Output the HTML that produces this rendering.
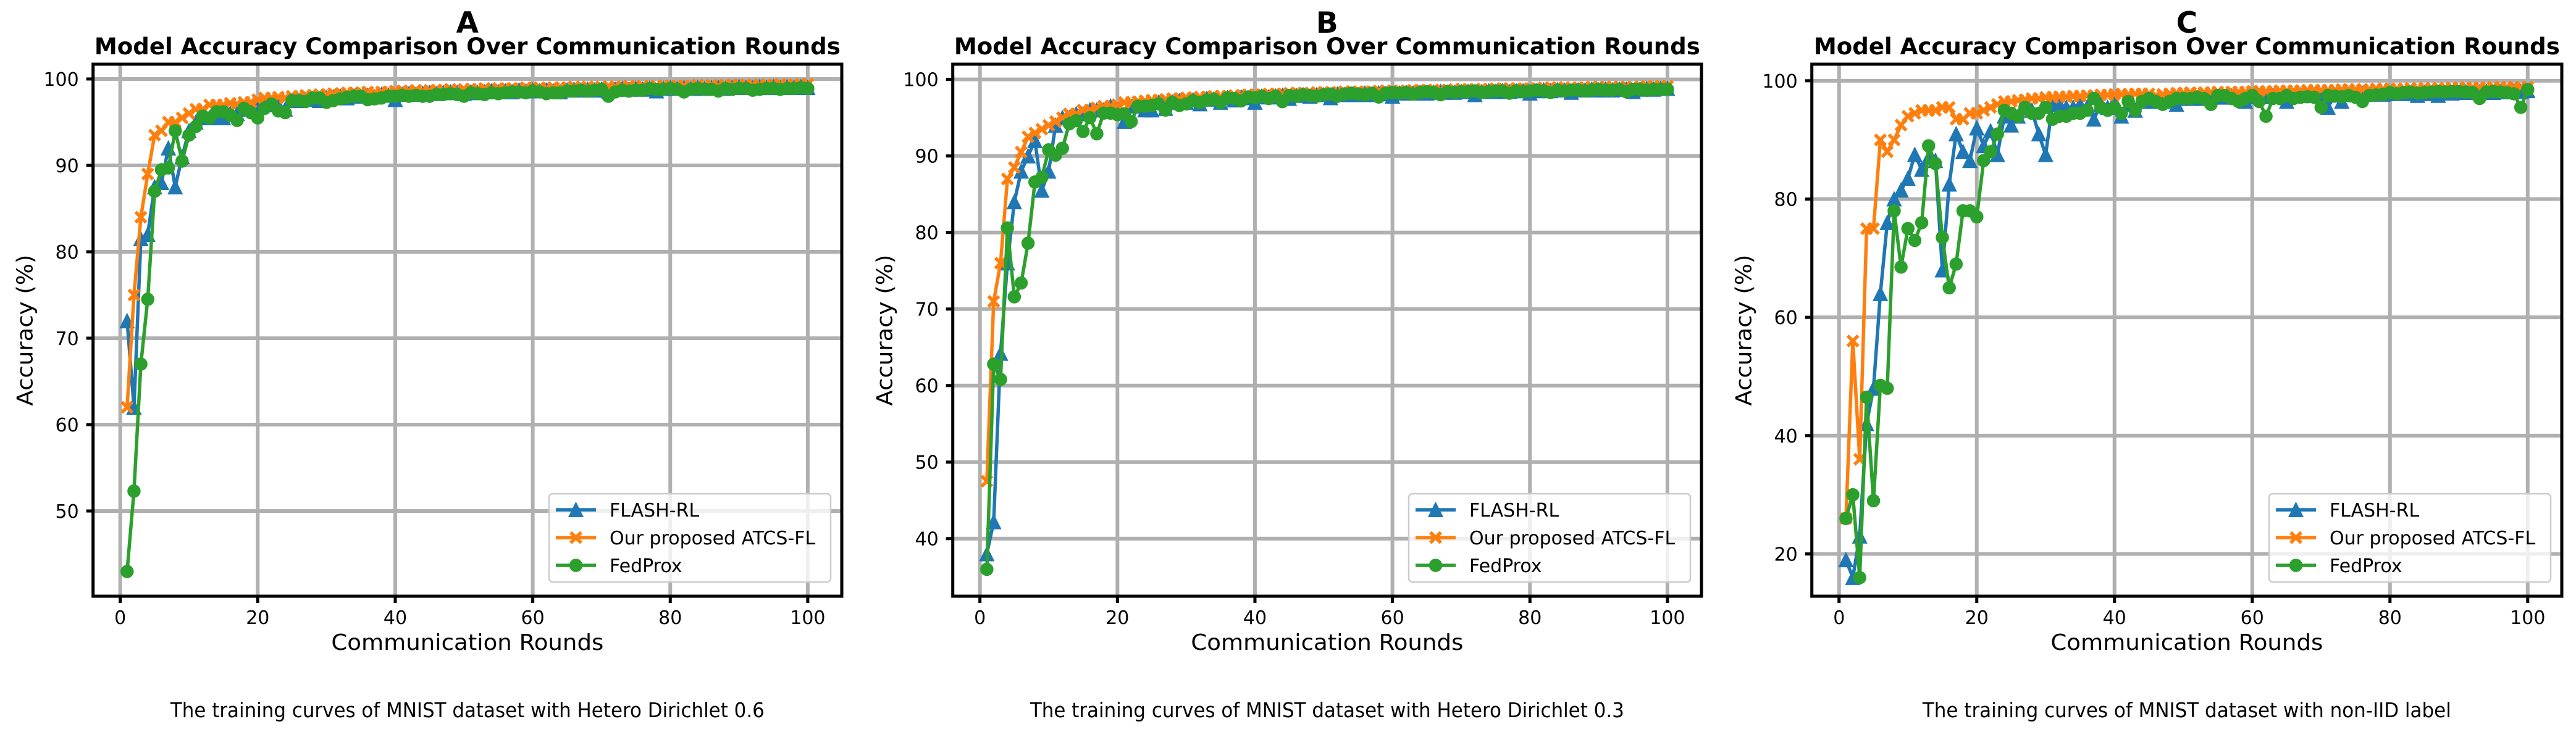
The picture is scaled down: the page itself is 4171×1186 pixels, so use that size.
<!DOCTYPE html>
<html><head><meta charset="utf-8"><style>
html,body{margin:0;padding:0;background:#fff;}
svg{display:block;}
text{font-family:"DejaVu Sans","Liberation Sans",sans-serif;}
</style></head>
<body>
<svg id="fig" xmlns="http://www.w3.org/2000/svg" width="4171" height="1186" viewBox="0 0 4171 1186"></svg>
<script>
const rounds = Array.from({length:100},(_, i)=>i+1);
const seriesNames = ["FLASH-RL","Our proposed ATCS-FL","FedProx"];
const panelLetters = ["A","B","C"];
const captions = ["The training curves of MNIST dataset with Hetero Dirichlet 0.6","The training curves of MNIST dataset with Hetero Dirichlet 0.3","The training curves of MNIST dataset with non-IID label"];
const xTicks = [0,20,40,60,80,100];
const yTicksA = [50,60,70,80,90,100];
const yTicksB = [40,50,60,70,80,90,100];
const yTicksC = [20,40,60,80,100];

const A_flash = [72,62,81.5,82,87.5,88,92,87.5,91,94,95,95.5,95.5,95.5,95.5,96,96,96.5,96.5,97,
97,97.2,97,96.5,97.5,97.5,97.6,97.7,97.5,97.8,97.9,98,97.8,98,98,98.1,97.9,98.2,98.1,97.6,
98.2,98.3,98.2,98.3,98.4,98.3,98.4,98.5,98.4,98.3,98.5,98.4,98.5,98.6,98.5,98.6,98.5,98.7,98.6,98.7,
98.6,98.7,98.6,98.5,98.7,98.8,98.7,98.8,98.7,98.8,98.6,98.8,98.9,98.8,98.9,98.8,98.9,98.6,98.9,99,
98.9,99,98.9,99,98.9,99,99,98.9,99,99.1,99,99,99.1,99,99.1,99,99.1,99,99.1,99];
const A_atcs = [62,75,84,89,93.5,94,95,95,95.5,96,96.5,96.5,97,97,97,97.2,97.1,97.3,97.3,97.6,
97.8,97.8,97.9,97.8,98,98,98.1,98.1,98.2,98.2,98.3,98.3,98.4,98.4,98.4,98.5,98.4,98.5,98.5,98.6,
98.6,98.6,98.7,98.6,98.7,98.7,98.7,98.8,98.7,98.8,98.8,98.8,98.9,98.8,98.9,98.9,98.9,98.9,99,98.9,
99,98.9,99,99,99,99.1,99,99.1,99,99.1,99.1,99.1,99.1,99.2,99.1,99.2,99.1,99.2,99.2,99.2,
99.2,99.2,99.2,99.3,99.2,99.3,99.2,99.3,99.3,99.3,99.3,99.3,99.3,99.3,99.3,99.4,99.3,99.3,99.4,99.4];
const A_fed = [43,52.3,67,74.5,87,89.5,89.7,94,90.5,93.5,94.5,95.7,95.5,96.2,96.2,95.8,95.2,96.6,96.1,95.5,
96.6,97.1,96.3,96.1,97.5,97.5,97.4,97.8,97.8,97.3,97.5,97.7,97.9,98,98,97.6,97.7,97.8,98,98,
98.1,98,98.1,98,98,98.2,98.2,98.3,98.2,98,98.4,98.3,98.2,98.4,98.3,98.4,98.5,98.5,98.4,98.6,
98.5,98.3,98.4,98.4,98.6,98.6,98.7,98.6,98.7,98.8,98,98.5,98.7,98.6,98.7,98.7,98.9,98.8,98.8,98.9,
98.8,98.5,98.8,98.9,98.8,98.8,98.6,98.9,98.8,98.9,98.9,98.7,98.8,98.9,98.9,98.8,98.9,98.9,99,98.9];

const B_flash = [38,42.2,64.2,76,84,88,90,92,85.5,88,94,95,95,95.5,95.5,96,96,96,96.5,96,
94.5,96.5,96.5,96,96,97,96.2,97,97.2,97,97.3,96.8,97.5,97.4,97,97.6,97.3,97.7,97.6,97,
97.8,97.7,97.8,97.9,97.5,97.9,98,97.8,98,98,97.6,98.1,98,98.1,98,98.2,98,98.2,98.1,97.8,
98.2,98.3,98.2,98.3,98.2,98.3,98.4,98.3,98.3,98.4,98.4,98,98.4,98.5,98.4,98.5,98.4,98.5,98.5,98.2,
98.5,98.6,98.5,98.6,98.6,98.3,98.6,98.6,98.7,98.6,98.7,98.6,98.7,98.7,98.4,98.7,98.8,98.7,98.8,98.8];
const B_atcs = [47.5,71,76,87,88.5,90.5,92.5,93,93.5,94,94.5,95,95.5,95.5,96,96,96.3,96.5,96.5,96.7,
97,97,97.1,97.2,97.3,97.3,97.4,97.5,97.5,97.6,97.6,97.7,97.7,97.8,97.8,97.8,97.9,97.9,98,98,
98,98.1,98.1,98.1,98.2,98.2,98.2,98.2,98.3,98.3,98.3,98.3,98.4,98.4,98.4,98.4,98.4,98.5,98.5,98.5,
98.5,98.5,98.6,98.6,98.6,98.6,98.6,98.6,98.7,98.7,98.7,98.7,98.7,98.7,98.8,98.8,98.8,98.8,98.8,98.8,
98.8,98.9,98.9,98.9,98.9,98.9,98.9,98.9,99,99,99,99,99,99,99,99,99.1,99.1,99.1,99.1];
const B_fed = [36,62.8,60.8,80.6,71.6,73.4,78.6,86.6,87.2,90.8,90.1,91,94.2,94.6,93.2,95,92.9,95.6,95.6,95.4,
95.5,94.5,96.5,96.5,96.6,96.8,96,97,96.6,96.8,97.2,97,97.3,97.4,97,97.6,97.5,97.2,97.7,97.6,
97.8,97.5,97.8,97.1,97.9,97.8,98,97.9,97.8,98,98.1,97.8,98.1,98.2,98.1,98,98.2,97.7,98.2,98.3,
98.2,98.3,98.1,98.3,98.4,98.3,98,98.4,98.3,98.4,98.4,98.5,98.3,98.4,98.5,98.5,98.2,98.5,98.4,98.5,
98.6,98.5,98.3,98.6,98.5,98.6,98.6,98.5,98.6,98.7,98.6,98.6,98.7,98.4,98.7,98.7,98.6,98.7,98.7,98.7];

const C_flash = [19,16,23,42,48,64,76,80,81.5,83.5,87.5,85,87,86.5,68,82.5,91,88,86.5,92,
89,91.5,87.5,94,92.5,94,95.5,95,91,87.5,96,96,95.5,95.5,96,95.5,93.5,96,95.5,96.5,
94,96,95,96.5,96.5,96.5,96.5,97,96,97,97,97.2,97,97.2,97.3,97.2,97.4,97.2,96.5,97.3,
97.5,97.3,97.5,97.4,96.5,97.5,97.6,97.5,97.6,97.5,95.5,97.6,96.5,97.7,97.6,97.8,97.7,97.8,97.7,97.9,
97.8,97.9,97.8,97.5,98,97.8,97.5,98,97.9,98,98.1,98,98.1,98.2,98,98.2,98.1,98.3,98.2,98.3];
const C_atcs = [26,56,36,75,75,90,88,90,92.5,94,94.5,95,95,95,95.5,95.5,93.5,93.5,94.5,94.5,
95,95.5,96,96.5,96.5,96.7,96.8,97,97,97.2,97.2,97.3,97.3,97.4,97.4,97.5,97.5,97.6,97.6,97.7,
97.7,97.7,97.8,97.8,97.8,97.5,97.7,97.8,97.9,97.9,98,97.9,98,98,98.1,98,98.1,98.1,98.1,98.2,
98.2,98.2,98.2,98.3,98.3,98.3,98.3,98.4,98.4,98.4,98.4,98.4,98.5,98.5,98.5,98.5,98.5,98.6,98.6,98.6,
98.6,98.6,98.7,98.7,98.7,98.7,98.7,98.7,98.8,98.8,98.8,98.8,98.8,98.8,98.9,98.9,98.9,98.9,98.9,98.9];
const C_fed = [26,30,16,46.5,29,48.5,48,78,68.5,75,73,76,89,86,73.5,65,69,78,78,77,
86.5,88,91,95,94.5,94,95.5,94.5,94.5,95.5,93.5,94,94,94.5,94.5,95,97,95.5,95,95.5,
94.5,96.5,95,96.5,97,96.5,96,96.5,97,97,97,97.2,97,96,97.5,97.5,97,96.5,97,97.5,
96.5,94,97,97,97.5,97,97.2,97.3,97.2,95.5,97.5,97.4,97.3,97.5,97.2,96.5,97.5,97.6,97.7,98,
97.8,98,98.1,97.9,98,98.1,98.2,98.1,98.2,98.2,98.1,98,97,98.1,98.2,98.1,98,97.8,95.5,98.5];

const NS = "http://www.w3.org/2000/svg";
const fig = document.getElementById('fig');
function mk(tag, attrs, parent){
  const e = document.createElementNS(NS, tag);
  for (const k in attrs) e.setAttribute(k, attrs[k]);
  (parent||fig).appendChild(e);
  return e;
}
const colors = ["#1f77b4","#ff7f0e","#2ca02c"];
const TOP = 104, BOT = 966;
const panels = [
  {L:150.7, R:1363, ymin:40.14, ymax:101.71, yticks:yTicksA, data:[A_flash,A_atcs,A_fed]},
  {L:1542.7, R:2755, ymin:32.48, ymax:101.99, yticks:yTicksB, data:[B_flash,B_atcs,B_fed]},
  {L:2933.7, R:4148, ymin:12.85, ymax:102.8, yticks:yTicksC, data:[C_flash,C_atcs,C_fed]}
];
const XMIN = -3.95, XMAX = 104.95;

function drawMarker(g, kind, x, y, color){
  let m;
  if (kind === 0){
    m = mk('polygon', {points:`${x},${y-11} ${x-11},${y+11} ${x+11},${y+11}`, fill:color, stroke:color, 'stroke-width':2, 'stroke-linejoin':'miter'}, g);
  } else if (kind === 1){
    m = mk('path', {d:`M${x-8.5},${y-8.5}L${x+8.5},${y+8.5}M${x-8.5},${y+8.5}L${x+8.5},${y-8.5}`, stroke:color, 'stroke-width':5.5, fill:'none'}, g);
  } else {
    m = mk('circle', {cx:x, cy:y, r:10, fill:color, stroke:color, 'stroke-width':1.5}, g);
  }
  return m;
}

panels.forEach((p, pi) => {
  const sx = v => p.L + (v - XMIN) / (XMAX - XMIN) * (p.R - p.L);
  const sy = v => BOT - (v - p.ymin) / (p.ymax - p.ymin) * (BOT - TOP);
  const cx = (p.L + p.R) / 2;
  const g = mk('g', {});
  
  

  const clipId = 'clip' + pi;
  const defs = mk('defs', {}, g);
  const cp = mk('clipPath', {id: clipId}, defs);
  mk('rect', {x:p.L, y:TOP, width:p.R-p.L, height:BOT-TOP}, cp);

  // grid
  const grid = mk('g', {stroke:'#b0b0b0', 'stroke-width':6, 'clip-path':`url(#${clipId})`}, g);
  
  
  xTicks.forEach(t => mk('line', {x1:sx(t), x2:sx(t), y1:TOP, y2:BOT}, grid));
  p.yticks.forEach(t => mk('line', {x1:p.L, x2:p.R, y1:sy(t), y2:sy(t)}, grid));

  // series
  p.data.forEach((vals, si) => {
    const sg = mk('g', {'clip-path':`url(#${clipId})`}, g);
    
    
    const pts = vals.map((v, i) => `${sx(rounds[i]).toFixed(2)},${sy(v).toFixed(2)}`).join(' ');
    const line = mk('polyline', {points:pts, fill:'none', stroke:colors[si], 'stroke-width':5.5, 'stroke-linejoin':'round', 'stroke-linecap':'square'}, sg);
    
    
    vals.forEach((v, i) => {
      const m = drawMarker(sg, si, sx(rounds[i]), sy(v), colors[si]);
      
      
    });
  });

  // spines
  const sp = mk('rect', {x:p.L, y:TOP, width:p.R-p.L, height:BOT-TOP, fill:'none', stroke:'#000', 'stroke-width':5}, g);
  
  

  // x ticks
  xTicks.forEach(t => {
    mk('line', {x1:sx(t), x2:sx(t), y1:BOT, y2:BOT+11, stroke:'#000', 'stroke-width':5}, g);
    const tx = mk('text', {x:sx(t), y:1011, 'font-size':30, 'text-anchor':'middle', fill:'#000'}, g);
    tx.textContent = t;
    
    
  });
  // y ticks
  p.yticks.forEach(t => {
    mk('line', {x1:p.L-11, x2:p.L, y1:sy(t), y2:sy(t), stroke:'#000', 'stroke-width':5}, g);
    const ty = mk('text', {x:p.L-23, y:sy(t)+11, 'font-size':30, 'text-anchor':'end', fill:'#000'}, g);
    ty.textContent = t;
    
    
  });

  // axis labels
  const xl = mk('text', {x:cx, y:1053, 'font-size':36, 'text-anchor':'middle', fill:'#000', textLength:441, lengthAdjust:'spacingAndGlyphs'}, g);
  xl.textContent = 'Communication Rounds';
  
  
  const ylx = p.L - 98;
  const yl = mk('text', {x:ylx, y:535, 'font-size':36, 'text-anchor':'middle', fill:'#000', transform:`rotate(-90 ${ylx} 535)`, textLength:245, lengthAdjust:'spacingAndGlyphs'}, g);
  yl.textContent = 'Accuracy (%)';
  
  

  // titles
  const pl = mk('text', {x:cx, y:53, 'font-size':47, 'font-weight':'bold', 'text-anchor':'middle', fill:'#000'}, g);
  pl.textContent = panelLetters[pi];
  
  
  const tt = mk('text', {x:cx, y:88, 'font-size':37, 'font-weight':'bold', 'text-anchor':'middle', fill:'#000', textLength:1208, lengthAdjust:'spacingAndGlyphs'}, g);
  tt.textContent = 'Model Accuracy Comparison Over Communication Rounds';
  
  

  // caption
  const capLen = [962, 962, 856][pi];
  const cap = mk('text', {x:cx, y:1162, 'font-size':33, 'text-anchor':'middle', fill:'#000', textLength:capLen, lengthAdjust:'spacingAndGlyphs'}, g);
  cap.textContent = captions[pi];
  
  

  // legend
  const lw = 456, lh = 143;
  const lx = p.R - 18 - lw, ly = BOT - 23 - lh;
  const lg = mk('g', {}, g);
  
  
  mk('rect', {x:lx, y:ly, width:lw, height:lh, rx:6, fill:'#fff', 'fill-opacity':0.8, stroke:'#cccccc', 'stroke-width':2.5}, lg);
  seriesNames.forEach((n, si) => {
    const ey = ly + 26 + si * 45;
    const eg = mk('g', {}, lg);
    
    
    mk('line', {x1:lx+11, x2:lx+76, y1:ey, y2:ey, stroke:colors[si], 'stroke-width':5.5}, eg);
    drawMarker(eg, si, lx+43.5, ey, colors[si]);
    const lt = mk('text', {x:lx+98, y:ey+11, 'font-size':30, fill:'#000'}, eg);
    lt.textContent = n;
  });
});
</script>
</body></html>
